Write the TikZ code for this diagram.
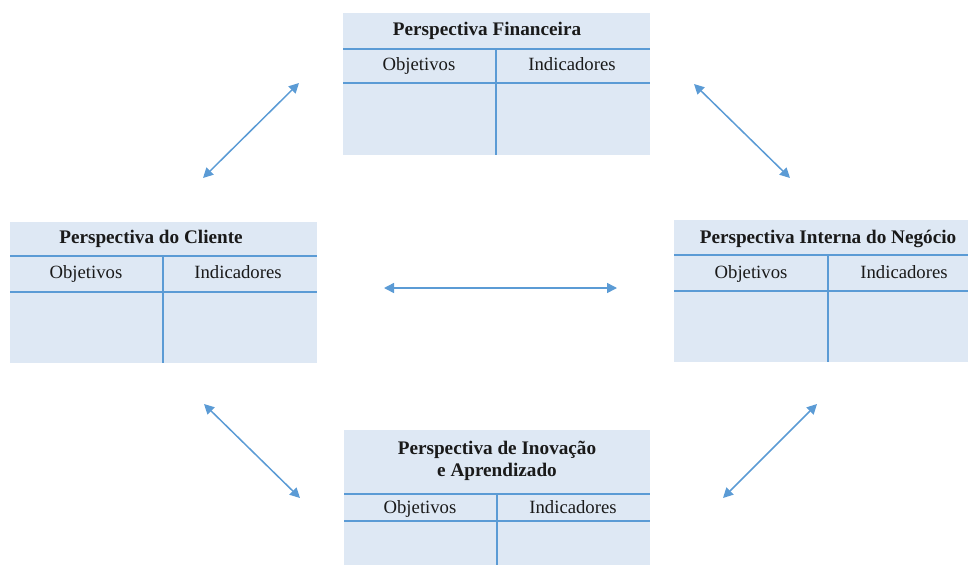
\documentclass[tikz,border=0pt]{standalone}
\usepackage{fontspec}
\setmainfont{Liberation Serif}
\usetikzlibrary{arrows.meta}
\definecolor{panelfill}{HTML}{DEE8F4}
\definecolor{rulecol}{HTML}{5B9BD5}
\definecolor{inkcol}{HTML}{1A1A1A}
\begin{document}
\begin{tikzpicture}[x=1pt,y=-1pt,
  panel/.style={fill=panelfill, draw=none, inner sep=0pt, anchor=north west},
  rule/.style={draw=rulecol, line width=1.3pt},
  heading/.style={font=\fontsize{19.2}{22}\selectfont\bfseries, text=inkcol, inner sep=0pt,
    text height=13pt, text depth=4pt},
  heading2/.style={font=\fontsize{19.2}{22}\selectfont\bfseries, text=inkcol, inner sep=0pt, align=center},
  colhead/.style={font=\fontsize{18.7}{22}\selectfont, text=inkcol, inner sep=0pt,
    text height=13pt, text depth=4pt},
  link/.style={draw=rulecol, line width=1.5pt,
    {Triangle[length=10pt,width=10pt]}-{Triangle[length=10pt,width=10pt]}}]
\useasboundingbox (0,0) rectangle (968,565);

% Perspectiva Financeira (top)
\node[panel, minimum width=307pt, minimum height=142pt] (fin) at (343,13) {};
\draw[rule] (343,49) -- (650,49);
\draw[rule] (343,83) -- (650,83);
\draw[rule] (496,49) -- (496,155);
\node[heading] (finT) at (487,30.5) {Perspectiva Financeira};
\node[colhead] (finO) at (419,65.5) {Objetivos};
\node[colhead] (finI) at (572,65.5) {Indicadores};

% Perspectiva do Cliente (left)
\node[panel, minimum width=307pt, minimum height=141pt] (cli) at (10,222) {};
\draw[rule] (10,256) -- (317,256);
\draw[rule] (10,292) -- (317,292);
\draw[rule] (163,256) -- (163,363);
\node[heading] (cliT) at (151,238.5) {Perspectiva do Cliente};
\node[colhead] (cliO) at (86,273.5) {Objetivos};
\node[colhead] (cliI) at (238,273.5) {Indicadores};

% Perspectiva Interna do Negocio (right)
\node[panel, minimum width=294pt, minimum height=142pt] (neg) at (674,220) {};
\draw[rule] (674,255) -- (968,255);
\draw[rule] (674,291) -- (968,291);
\draw[rule] (828,255) -- (828,362);
\node[heading] (negT) at (828,238.5) {Perspectiva Interna do Negócio};
\node[colhead] (negO) at (751,273.5) {Objetivos};
\node[colhead] (negI) at (904,273.5) {Indicadores};

% Perspectiva de Inovacao e Aprendizado (bottom)
\node[panel, minimum width=306pt, minimum height=135pt] (ino) at (344,430) {};
\draw[rule] (344,494) -- (650,494);
\draw[rule] (344,521) -- (650,521);
\draw[rule] (497,494) -- (497,565);
\node[heading2] (inoT) at (497,461) {Perspectiva de Inovação\\e Aprendizado};
\node[colhead] (inoO) at (420,508.5) {Objetivos};
\node[colhead] (inoI) at (573,508.5) {Indicadores};

% connector ends
\coordinate (finL) at (299,83);
\coordinate (cliU) at (203,178);
\coordinate (finR) at (694,84);
\coordinate (negU) at (790,178);
\coordinate (cliD) at (204,404);
\coordinate (inoL) at (300,498);
\coordinate (negD) at (817,404);
\coordinate (inoR) at (723,498);
\coordinate (midL) at (384,288);
\coordinate (midR) at (617,288);

\draw[link] (cliU) -- (finL);
\draw[link] (finR) -- (negU);
\draw[link] (cliD) -- (inoL);
\draw[link] (inoR) -- (negD);
\draw[link] (midL) -- (midR);
\end{tikzpicture}
\end{document}
